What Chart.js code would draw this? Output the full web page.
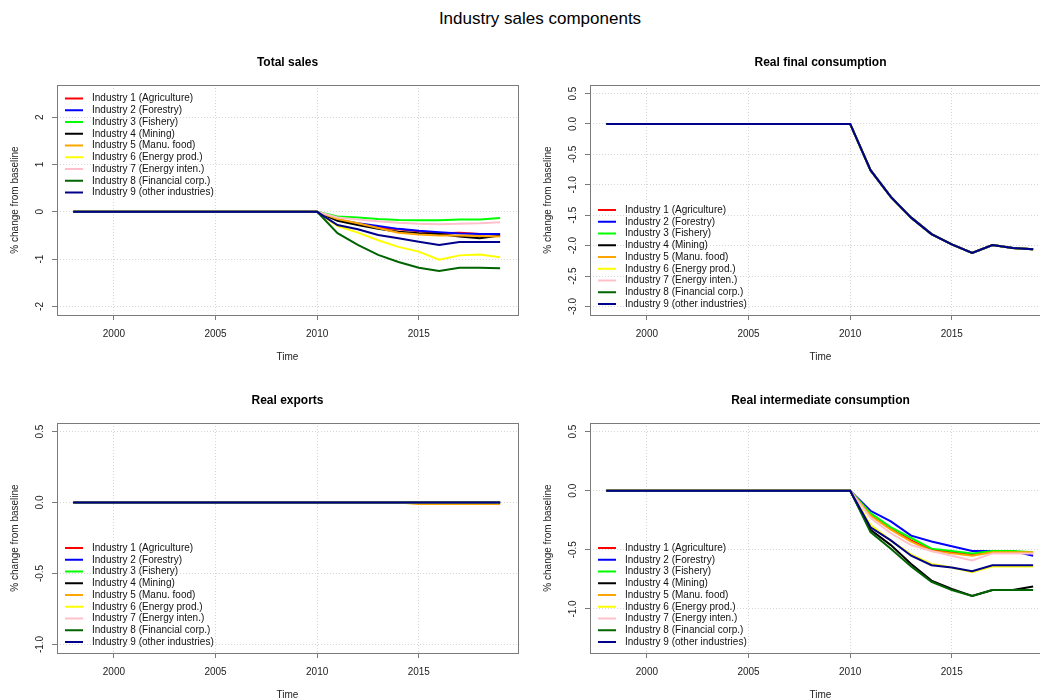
<!DOCTYPE html>
<html>
<head>
<meta charset="utf-8">
<script src="https://cdn.jsdelivr.net/npm/chart.js@4.4.1/dist/chart.umd.min.js"></script>
<style>
  html, body { margin: 0; padding: 0; background: #fff; width: 1040px; height: 700px; overflow: hidden; }
  #mainTitle { position: absolute; left: 0; top: 9px; width: 1080px; text-align: center;
    font: 17px "Liberation Sans", Arial, sans-serif; line-height: 20px; color: #000; }
  .panel { position: absolute; }
</style>
</head>
<body>
<div id="mainTitle">Industry sales components</div>
<div class="panel" style="left:0;top:30px"><canvas id="pSales" width="534" height="338"></canvas></div>
<div class="panel" style="left:533px;top:30px"><canvas id="pFinal" width="534" height="338"></canvas></div>
<div class="panel" style="left:0;top:368px"><canvas id="pExports" width="534" height="332"></canvas></div>
<div class="panel" style="left:533px;top:368px"><canvas id="pInter" width="534" height="332"></canvas></div>
<script>
// ---- categories ----
const years = [1998, 1999, 2000, 2001, 2002, 2003, 2004, 2005, 2006, 2007, 2008, 2009,
               2010, 2011, 2012, 2013, 2014, 2015, 2016, 2017, 2018, 2019];
const industries = ['Industry 1 (Agriculture)', 'Industry 2 (Forestry)', 'Industry 3 (Fishery)',
  'Industry 4 (Mining)', 'Industry 5 (Manu. food)', 'Industry 6 (Energy prod.)',
  'Industry 7 (Energy inten.)', 'Industry 8 (Financial corp.)', 'Industry 9 (other industries)'];
const industryColors = ['#ff0000', '#0000ff', '#00ff00', '#000000', '#ffa500',
  '#ffff00', '#ffc0cb', '#006400', '#00008b'];

// ---- tick labels ----
const xTickYears = [2000, 2005, 2010, 2015];
const yTicksSales = [-2, -1, 0, 1, 2];
const yTicksFinal = [-3.0, -2.5, -2.0, -1.5, -1.0, -0.5, 0.0, 0.5];
const yTicksExports = [-1.0, -0.5, 0.0, 0.5];
const yTicksInter = [-1.0, -0.5, 0.0, 0.5];

// ---- values: % change from baseline ----
// 1998-2009: no deviation from baseline
const preShock = [0, 0, 0, 0, 0, 0, 0, 0, 0, 0, 0, 0];

// Total sales, 2010-2019
const salesAgriculture = [0, -0.17, -0.25, -0.33, -0.37, -0.41, -0.45, -0.44, -0.47, -0.48];
const salesForestry    = [0, -0.17, -0.24, -0.30, -0.36, -0.40, -0.43, -0.46, -0.47, -0.47];
const salesFishery     = [0, -0.10, -0.12, -0.15, -0.17, -0.18, -0.18, -0.16, -0.16, -0.13];
const salesMining      = [0, -0.19, -0.28, -0.36, -0.42, -0.45, -0.47, -0.52, -0.56, -0.50];
const salesManuFood    = [0, -0.15, -0.24, -0.34, -0.44, -0.48, -0.50, -0.50, -0.51, -0.52];
const salesEnergyProd  = [0, -0.30, -0.44, -0.60, -0.74, -0.84, -1.01, -0.92, -0.90, -0.96];
const salesEnergyInten = [0, -0.12, -0.16, -0.20, -0.23, -0.25, -0.26, -0.25, -0.24, -0.22];
const salesFinancial   = [0, -0.45, -0.70, -0.91, -1.06, -1.18, -1.25, -1.18, -1.18, -1.19];
const salesOther       = [0, -0.28, -0.37, -0.49, -0.56, -0.63, -0.70, -0.64, -0.64, -0.64];

// Real final consumption, 2010-2019 (same path for every industry)
const finalConsumption = [0, -0.76, -1.20, -1.54, -1.81, -1.98, -2.12, -1.99, -2.04, -2.06];

// Real exports, 2010-2019
const exportsFlat      = [0, 0, 0, 0, 0, 0, 0, 0, 0, 0];
const exportsManuFood  = [0, 0, 0, 0, 0, -0.01, -0.01, -0.01, -0.01, -0.01];

// Real intermediate consumption, 2010-2019
const interAgriculture = [0, -0.20, -0.32, -0.42, -0.50, -0.52, -0.54, -0.51, -0.52, -0.53];
const interForestry    = [0, -0.17, -0.26, -0.38, -0.43, -0.47, -0.51, -0.51, -0.51, -0.55];
const interFishery     = [0, -0.19, -0.31, -0.40, -0.49, -0.51, -0.53, -0.51, -0.51, -0.52];
const interMining      = [0, -0.33, -0.46, -0.62, -0.76, -0.83, -0.89, -0.84, -0.84, -0.81];
const interManuFood    = [0, -0.21, -0.33, -0.43, -0.51, -0.53, -0.55, -0.52, -0.52, -0.52];
const interEnergyProd  = [0, -0.29, -0.42, -0.54, -0.62, -0.65, -0.69, -0.64, -0.64, -0.64];
const interEnergyInten = [0, -0.23, -0.36, -0.46, -0.51, -0.55, -0.59, -0.53, -0.53, -0.53];
const interFinancial   = [0, -0.35, -0.49, -0.64, -0.77, -0.84, -0.89, -0.84, -0.84, -0.84];
const interOther       = [0, -0.31, -0.42, -0.55, -0.63, -0.65, -0.68, -0.63, -0.63, -0.63];

// ---- drawing ----
const FONT = '"Liberation Sans", Arial, Helvetica, sans-serif';
Chart.defaults.font.family = FONT;
Chart.defaults.animation = false;

function buildDatasets(seriesList) {
  return seriesList.map((vals, i) => {
    const full = preShock.concat(vals);
    return {
      label: industries[i],
      data: years.map((yr, k) => ({ x: yr, y: full[k] })),
      borderColor: industryColors[i],
      backgroundColor: industryColors[i],
      borderWidth: 2,
      pointRadius: 0,
      tension: 0,
      order: industries.length - i   // later industries drawn on top
    };
  });
}

// Box, rotated y labels, axis titles, panel title and legend
const panelDecor = {
  id: 'panelDecor',
  afterDraw(chart, args, opts) {
    const { ctx, chartArea: a } = chart;
    const ys = chart.scales.y;
    ctx.save();
    // plot frame
    ctx.strokeStyle = '#7a7a7a';
    ctx.lineWidth = 1;
    ctx.strokeRect(Math.round(a.left) + 0.5, Math.round(a.top) + 0.5,
                   Math.round(a.right - a.left), Math.round(a.bottom - a.top));
    // y tick labels, written along the axis
    ctx.fillStyle = '#222';
    ctx.font = '10px ' + FONT;
    ctx.textAlign = 'center';
    ctx.textBaseline = 'middle';
    ys.ticks.forEach(t => {
      const py = ys.getPixelForValue(t.value);
      ctx.save();
      ctx.translate(a.left - 16.5, py);
      ctx.rotate(-Math.PI / 2);
      ctx.fillText(t.value.toFixed(opts.decimals), 0, 0);
      ctx.restore();
    });
    // y axis title
    ctx.save();
    ctx.translate(a.left - 42, (a.top + a.bottom) / 2);
    ctx.rotate(-Math.PI / 2);
    ctx.fillText('% change from baseline', 0, 0);
    ctx.restore();
    // x axis title
    ctx.fillText('Time', (a.left + a.right) / 2, a.bottom + 42);
    // panel title
    ctx.fillStyle = '#000';
    ctx.font = 'bold 12px ' + FONT;
    ctx.fillText(opts.title, (a.left + a.right) / 2, a.top - 22);
    // legend
    ctx.font = '10px ' + FONT;
    ctx.textAlign = 'left';
    const rowH = 11.75;
    const n = chart.data.datasets.length;
    const firstY = opts.legendAt === 'top' ? a.top + 13.5 : a.bottom - 11 - (n - 1) * rowH;
    chart.data.datasets.forEach((ds, i) => {
      const y = firstY + i * rowH;
      ctx.strokeStyle = ds.borderColor;
      ctx.lineWidth = 2;
      ctx.beginPath();
      ctx.moveTo(a.left + 8, y);
      ctx.lineTo(a.left + 26, y);
      ctx.stroke();
      ctx.fillStyle = '#111';
      ctx.fillText(ds.label, a.left + 35, y);
    });
    ctx.restore();
  }
};

function makeChart(id, seriesList, yMin, yMax, yTicks, decimals, title, legendAt) {
  const canvas = document.getElementById(id);
  const H = canvas.height;
  return new Chart(canvas, {
    type: 'line',
    data: { datasets: buildDatasets(seriesList) },
    options: {
      responsive: false,
      maintainAspectRatio: false,
      layout: { padding: { left: 0, top: 55, right: 16, bottom: 0 } },
      plugins: {
        legend: { display: false },
        title: { display: false },
        tooltip: { enabled: false },
        panelDecor: { title: title, legendAt: legendAt, decimals: decimals }
      },
      scales: {
        x: {
          type: 'linear',
          min: 1997.2,
          max: 2019.88,
          afterBuildTicks: s => { s.ticks = xTickYears.map(v => ({ value: v })); },
          afterFit: s => { s.height = H - 285; },
          grid: { color: '#d6d6d6', lineWidth: 1, tickColor: '#7a7a7a', tickLength: 5 },
          border: { display: false, dash: [1, 2] },
          ticks: { color: '#222', font: { size: 10 }, padding: 8, maxRotation: 0,
                   autoSkip: false, callback: v => String(v) }
        },
        y: {
          type: 'linear',
          min: yMin,
          max: yMax,
          afterBuildTicks: s => { s.ticks = yTicks.map(v => ({ value: v })); },
          afterFit: s => { s.width = 57; },
          grid: { color: '#d6d6d6', lineWidth: 1, tickColor: '#7a7a7a', tickLength: 5 },
          border: { display: false, dash: [1, 2] },
          ticks: { display: false }
        }
      }
    },
    plugins: [panelDecor]
  });
}

makeChart('pSales',
  [salesAgriculture, salesForestry, salesFishery, salesMining, salesManuFood,
   salesEnergyProd, salesEnergyInten, salesFinancial, salesOther],
  -2.18, 2.68, yTicksSales, 0, 'Total sales', 'top');

makeChart('pFinal',
  industries.map(() => finalConsumption),
  -3.14, 0.64, yTicksFinal, 1, 'Real final consumption', 'bottom');

makeChart('pExports',
  [exportsFlat, exportsFlat, exportsFlat, exportsFlat, exportsManuFood,
   exportsFlat, exportsFlat, exportsFlat, exportsFlat],
  -1.06, 0.56, yTicksExports, 1, 'Real exports', 'bottom');

makeChart('pInter',
  [interAgriculture, interForestry, interFishery, interMining, interManuFood,
   interEnergyProd, interEnergyInten, interFinancial, interOther],
  -1.372, 0.572, yTicksInter, 1, 'Real intermediate consumption', 'bottom');
</script>
</body>
</html>
